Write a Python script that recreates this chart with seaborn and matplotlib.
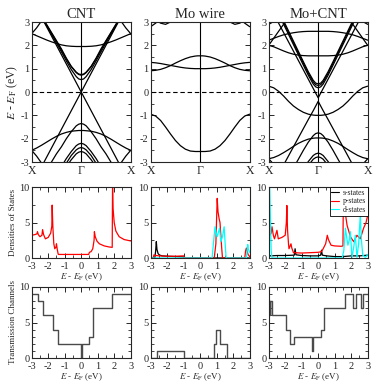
import numpy as np
import pandas as pd
import matplotlib
matplotlib.use("Agg")
import matplotlib.pyplot as plt
from matplotlib.ticker import MultipleLocator
import seaborn as sns

sns.set_theme(style="ticks")
plt.rcParams["font.family"] = ["Liberation Serif", "DejaVu Serif"]
plt.rcParams["mathtext.fontset"] = "stix"
plt.rcParams["axes.linewidth"] = 0.8
plt.rcParams["axes.unicode_minus"] = False

TITLES = ["CNT", "Mo wire", "Mo+CNT"]

# band energies (eV) read at these k values (Gamma = 0, X = 1), mirrored about Gamma
K_GRID = [0.0, 0.05, 0.1, 0.2, 0.3, 0.4, 0.5, 0.6, 0.7, 0.8, 0.9, 1.0]

CNT_BANDS = [
    [0.0, 0.2, 0.4, 0.8, 1.2, 1.6, 2.0, 2.4, 2.8, 3.2, 3.6, 4.0],
    [0.0, -0.2, -0.4, -0.8, -1.2, -1.6, -2.0, -2.4, -2.8, -3.2, -3.6, -4.0],
    [0.75, 0.77, 0.85, 1.1, 1.45, 1.85, 2.2, 2.55, 2.9, 3.25, 3.6, 4.0],
    [0.72, 0.75, 0.83, 1.08, 1.42, 1.8, 2.17, 2.52, 2.87, 3.2, 3.6, 4.0],
    [0.53, 0.56, 0.66, 0.96, 1.33, 1.72, 2.1, 2.48, 2.85, 3.2, 3.6, 4.0],
    [1.95, 1.95, 1.95, 1.96, 1.98, 2.02, 2.08, 2.15, 2.23, 2.32, 2.41, 2.5],
    [4.0, 4.0, 4.0, 4.0, 4.0, 4.0, 4.0, 3.8, 3.4, 3.05, 2.75, 2.5],
    [-1.65, -1.65, -1.66, -1.68, -1.73, -1.8, -1.9, -2.02, -2.15, -2.28, -2.4, -2.5],
    [-4.0, -4.0, -4.0, -4.0, -4.0, -4.0, -4.0, -3.8, -3.4, -3.05, -2.75, -2.5],
    [-1.35, -1.38, -1.45, -1.7, -2.0, -2.35, -2.65, -3.0, -3.35, -3.7, -4.0, -4.0],
    [-2.2, -2.23, -2.3, -2.55, -2.85, -3.2, -3.5, -3.8, -4.0, -4.0, -4.0, -4.0],
    [-2.38, -2.41, -2.48, -2.72, -3.05, -3.4, -3.7, -4.0, -4.0, -4.0, -4.0, -4.0],
    [-2.55, -2.58, -2.65, -2.9, -3.2, -3.5, -3.8, -4.0, -4.0, -4.0, -4.0, -4.0],
]

MO_BANDS = [
    [-2.55, -2.55, -2.55, -2.53, -2.45, -2.3, -2.08, -1.8, -1.5, -1.22, -1.03, -0.95],
    [1.55, 1.55, 1.54, 1.5, 1.43, 1.34, 1.24, 1.13, 1.04, 0.97, 0.93, 0.91],
    [1.0, 1.0, 1.0, 1.01, 1.03, 1.06, 1.1, 1.14, 1.18, 1.22, 1.25, 1.27],
    [3.5, 3.5, 3.5, 3.5, 3.5, 3.5, 3.5, 3.5, 3.35, 3.15, 2.95, 2.8],
    [3.5, 3.5, 3.5, 3.5, 3.5, 3.5, 3.2, 3.0, 2.9, 2.95, 3.1, 3.2],
]

MOCNT_BANDS = [
    [-1.0, -1.0, -0.99, -0.95, -0.87, -0.75, -0.6, -0.4, -0.17, 0.03, 0.18, 0.25],
    [-0.4, -0.6, -0.8, -1.18, -1.57, -1.96, -2.35, -2.74, -3.13, -3.5, -3.9, -4.3],
    [-0.25, -0.05, 0.15, 0.55, 0.95, 1.35, 1.75, 2.15, 2.55, 2.95, 3.35, 3.75],
    [0.35, 0.38, 0.5, 0.87, 1.3, 1.74, 2.18, 2.62, 3.06, 3.5, 3.9, 4.3],
    [0.28, 0.31, 0.43, 0.8, 1.23, 1.67, 2.11, 2.55, 2.99, 3.43, 3.85, 4.3],
    [0.18, 0.22, 0.34, 0.72, 1.15, 1.59, 2.03, 2.47, 2.91, 3.35, 3.8, 4.3],
    [1.55, 1.55, 1.55, 1.55, 1.56, 1.58, 1.62, 1.68, 1.76, 1.85, 1.94, 2.0],
    [4.0, 4.0, 4.0, 4.0, 4.0, 4.0, 3.6, 3.2, 2.9, 2.6, 2.3, 2.0],
    [2.6, 2.6, 2.6, 2.6, 2.59, 2.57, 2.54, 2.5, 2.45, 2.38, 2.3, 2.22],
    [3.5, 3.5, 3.5, 3.5, 3.5, 3.5, 3.5, 3.45, 3.35, 3.2, 3.02, 2.9],
    [-1.75, -1.78, -1.87, -2.15, -2.5, -2.88, -3.25, -3.6, -4.0, -4.0, -4.0, -4.0],
    [-1.97, -1.97, -1.98, -2.02, -2.1, -2.2, -2.33, -2.47, -2.6, -2.72, -2.81, -2.86],
    [-2.62, -2.65, -2.72, -2.98, -3.3, -3.6, -4.0, -4.0, -4.0, -4.0, -4.0, -4.0],
    [-2.78, -2.81, -2.88, -3.15, -3.45, -3.8, -4.0, -4.0, -4.0, -4.0, -4.0, -4.0],
    [-4.0, -4.0, -4.0, -4.0, -4.0, -4.0, -4.0, -4.0, -3.7, -3.4, -3.1, -2.86],
]

# densities of states
CNT_P_E = [-3.0, -2.8, -2.68, -2.65, -2.6, -2.5, -2.38, -2.34, -2.28, -2.17, -2.0, -1.85,
           -1.78, -1.76, -1.72, -1.66, -1.6, -1.52, -1.5, -1.45, -1.4, -1.38, 0.45, 0.5,
           0.6, 0.7, 0.78, 0.8, 0.85, 0.95, 1.1, 1.4, 1.7, 1.88, 1.9, 1.93, 2.0, 2.1,
           2.3, 2.6, 3.0]
CNT_P_D = [3.2, 3.3, 3.4, 3.7, 3.3, 3.0, 3.2, 4.0, 3.3, 2.7, 2.9, 3.5,
           4.5, 7.45, 4.5, 2.0, 1.3, 1.6, 2.0, 1.2, 0.6, 0.5, 0.5, 0.8,
           0.9, 1.3, 2.5, 3.7, 3.0, 2.4, 2.0, 1.7, 1.55, 1.5, 10.5, 7.0, 5.0, 3.8,
           3.0, 2.6, 2.4]

MO_S_E = [-3.0, -2.75, -2.7, -2.66, -2.62, -2.55, -2.45, -2.3, -2.0, -1.5, -1.0, -0.95, 3.0]
MO_S_D = [0.0, 0.0, 1.0, 2.3, 1.2, 0.6, 0.4, 0.3, 0.25, 0.2, 0.15, 0.0, 0.0]
MO_P_E = [-3.0, -2.85, -2.8, -2.7, -2.5, -2.0, -1.5, -1.0, -0.95, 0.85, 0.95, 1.0, 1.03,
          1.08, 1.15, 1.2, 1.3, 1.35, 2.7, 2.75, 2.8, 2.9, 3.0]
MO_P_D = [0.0, 0.0, 0.45, 0.35, 0.3, 0.25, 0.25, 0.3, 0.0, 0.0, 2.0, 6.0, 8.4,
          6.5, 5.5, 5.0, 1.5, 0.0, 0.0, 1.0, 1.4, 0.5, 0.2]
MO_D_E = [-3.0, 0.72, 0.8, 0.9, 0.97, 1.03, 1.1, 1.17, 1.25, 1.35, 1.45, 1.5, 1.57,
          2.8, 2.88, 2.92, 3.0]
MO_D_D = [0.0, 0.0, 2.0, 4.4, 3.5, 3.0, 3.6, 4.2, 2.3, 3.0, 4.4, 2.5, 0.0,
          0.0, 1.9, 1.2, 0.8]

MOCNT_S_E = [-3.0, -2.9, -2.5, -2.0, -1.45, -1.4, -1.35, -1.0, -0.5, 0.0, 0.15, 0.2,
             0.25, 0.5, 1.0, 1.5, 2.0, 2.5, 3.0]
MOCNT_S_D = [0.5, 0.3, 0.35, 0.35, 0.4, 1.3, 0.45, 0.35, 0.3, 0.3, 0.4, 1.1,
             0.4, 0.3, 0.2, 0.2, 0.3, 0.3, 0.4]
MOCNT_P_E = [-3.0, -2.85, -2.8, -2.72, -2.65, -2.55, -2.5, -2.42, -2.2, -2.0, -1.93, -1.9,
             -1.86, -1.8, -1.77, -1.7, -1.65, -1.6, -1.52, -1.5, -1.0, -0.5, 0.0, 0.2,
             0.3, 0.45, 0.52, 0.55, 0.62, 0.78, 1.0, 1.4, 1.5, 1.53, 1.6, 1.75, 1.95,
             2.15, 2.35, 2.55, 2.75, 2.9, 3.0]
MOCNT_P_D = [3.0, 3.5, 4.4, 3.2, 2.7, 3.5, 3.9, 2.7, 2.9, 3.2, 5.0, 7.4,
             4.0, 2.0, 1.3, 1.7, 2.0, 1.4, 0.9, 0.75, 0.7, 0.75, 0.8, 0.9,
             1.3, 2.0, 2.8, 3.2, 2.6, 1.8, 1.7, 1.65, 1.7, 10.5, 7.0, 4.6, 3.0,
             2.3, 3.2, 2.7, 4.2, 5.0, 6.0]
MOCNT_D_E = [-3.0, -2.95, -2.9, -2.85, -2.8, 1.45, 1.55, 1.65, 1.72, 1.8, 1.88, 1.95,
             2.02, 2.05, 2.15, 2.25, 2.32, 2.35, 2.45, 2.55, 2.62, 2.7, 2.85, 2.95, 3.0]
MOCNT_D_D = [11.0, 11.0, 6.0, 1.0, 0.0, 0.0, 1.0, 4.2, 3.0, 1.8, 2.5, 3.7,
             1.0, 0.1, 1.5, 3.2, 1.0, 0.1, 2.0, 6.0, 2.5, 0.4, 0.1, 0.3, 0.5]

# transmission channels (step starts)
CNT_T_E = [-3.0, -2.6, -2.29, -1.68, -1.38, -0.02, 0.02, 0.45, 0.72, 1.88, 3.0]
CNT_T = [9, 8, 6, 4, 2, 0, 2, 3, 7, 9, 9]
MO_T_E = [-3.0, -2.64, -1.0, 0.82, 0.98, 1.19, 1.6, 3.0]
MO_T = [0, 1, 0, 2, 4, 2, 0, 0]
MOCNT_T_E = [-3.0, -2.95, -2.92, -2.83, -1.98, -1.72, -1.46, -0.37, -0.33, 0.15, 0.35,
             1.6, 2.1, 2.3, 2.6, 2.7, 3.0]
MOCNT_T = [8, 6, 8, 6, 4, 2, 3, 1, 3, 4, 7, 9, 7, 9, 7, 9, 9]

ORB_COLORS = {"s-states": "black", "p-states": "red", "d-states": "cyan"}
EF_LABEL = r"$E$ - $E_{\rm F}$ (eV)"

W, H = 374, 386
COL_X = [31.7, 150.7, 268.7]
COL_W = 99
ROWS = [(22, 162), (187, 258), (287, 358)]


def make_ax(fig, col, row):
    top, bot = ROWS[row]
    return fig.add_axes([COL_X[col] / W, 1 - bot / H, COL_W / W, (bot - top) / H])


def band_frame(bands):
    k = np.array(K_GRID)
    x = np.concatenate([-k[::-1], k[1:]])
    parts = []
    for i, e in enumerate(bands):
        e = np.array(e)
        parts.append(pd.DataFrame({"k": x, "E": np.concatenate([e[::-1], e[1:]]), "band": i}))
    return pd.concat(parts, ignore_index=True)


def dos_frame(curves):
    parts = []
    for name, e, d in curves:
        parts.append(pd.DataFrame({"E": e, "D": d, "orb": name}))
    return pd.concat(parts, ignore_index=True)


def style_ticks(ax, maj_y, min_y):
    ax.tick_params(which="both", direction="in", top=True, right=True,
                   labelsize=7.5, pad=1.5)
    ax.tick_params(axis="x", which="both", pad=3)
    ax.tick_params(which="major", length=3.5, width=0.7)
    ax.tick_params(which="minor", length=2, width=0.6)
    ax.yaxis.set_major_locator(MultipleLocator(maj_y))
    ax.yaxis.set_minor_locator(MultipleLocator(min_y))


fig = plt.figure(figsize=(W / 100, H / 100), dpi=100)

band_sets = [CNT_BANDS, MO_BANDS, MOCNT_BANDS]
dos_sets = [
    [("p-states", CNT_P_E, CNT_P_D)],
    [("s-states", MO_S_E, MO_S_D), ("p-states", MO_P_E, MO_P_D), ("d-states", MO_D_E, MO_D_D)],
    [("s-states", MOCNT_S_E, MOCNT_S_D), ("p-states", MOCNT_P_E, MOCNT_P_D),
     ("d-states", MOCNT_D_E, MOCNT_D_D)],
]
trans_sets = [(CNT_T_E, CNT_T), (MO_T_E, MO_T), (MOCNT_T_E, MOCNT_T)]

for c in range(3):
    # band structure
    ax = make_ax(fig, c, 0)
    sns.lineplot(data=band_frame(band_sets[c]), x="k", y="E", units="band",
                 estimator=None, sort=False, color="black", lw=0.9, ax=ax)
    ax.axvline(0, color="black", lw=0.8)
    ax.axhline(0, color="black", lw=0.8, ls=(0, (4, 2.5)))
    ax.set_xlim(-1, 1)
    ax.set_ylim(-3, 3)
    style_ticks(ax, 1, 0.5)
    ax.set_xticks([-1, 0, 1])
    ax.set_xticklabels(["X", "Γ", "X"], fontsize=8.5)
    ax.tick_params(axis="x", which="both", length=0, pad=2)
    ax.set_xlabel("")
    ax.set_ylabel("")
    ax.set_title(TITLES[c], fontsize=10.5, pad=3)
    if c == 0:
        ax.set_ylabel(EF_LABEL, fontsize=8.5, labelpad=1)

    # densities of states
    ax = make_ax(fig, c, 1)
    df = dos_frame(dos_sets[c])
    sns.lineplot(data=df, x="E", y="D", hue="orb", palette=ORB_COLORS,
                 estimator=None, sort=False, lw=0.9, ax=ax, legend=(c == 2))
    ax.set_xlim(-3, 3)
    ax.set_ylim(0, 10)
    style_ticks(ax, 5, 2.5)
    ax.xaxis.set_major_locator(MultipleLocator(1))
    ax.xaxis.set_minor_locator(MultipleLocator(0.5))
    ax.set_xlabel(EF_LABEL, fontsize=6.5, labelpad=0.5)
    ax.set_ylabel("")
    if c == 0:
        ax.set_ylabel("Densities of States", fontsize=6.5, labelpad=2)
    if c == 2:
        leg = ax.legend(loc="upper right", fontsize=5.5, frameon=True, fancybox=False,
                        borderaxespad=0.0, handlelength=1.0, handletextpad=0.5,
                        borderpad=0.2, labelspacing=0.1)
        leg.get_frame().set_edgecolor("black")
        leg.get_frame().set_linewidth(0.6)
        leg.get_frame().set_alpha(1)
        for line in leg.get_lines():
            line.set_linewidth(0.8)

    # transmission
    ax = make_ax(fig, c, 2)
    te, tv = trans_sets[c]
    sns.lineplot(x=te, y=tv, drawstyle="steps-post", estimator=None, sort=False,
                 color="#4a4a4a", lw=1.0, ax=ax)
    ax.set_xlim(-3, 3)
    ax.set_ylim(0, 10)
    style_ticks(ax, 5, 1)
    ax.xaxis.set_major_locator(MultipleLocator(1))
    ax.xaxis.set_minor_locator(MultipleLocator(0.5))
    ax.set_xlabel(EF_LABEL, fontsize=6.5, labelpad=0.5)
    ax.set_ylabel("")
    if c == 0:
        ax.set_ylabel("Transmission Channels", fontsize=6.5, labelpad=2)

fig.savefig("out.png", dpi=100)
